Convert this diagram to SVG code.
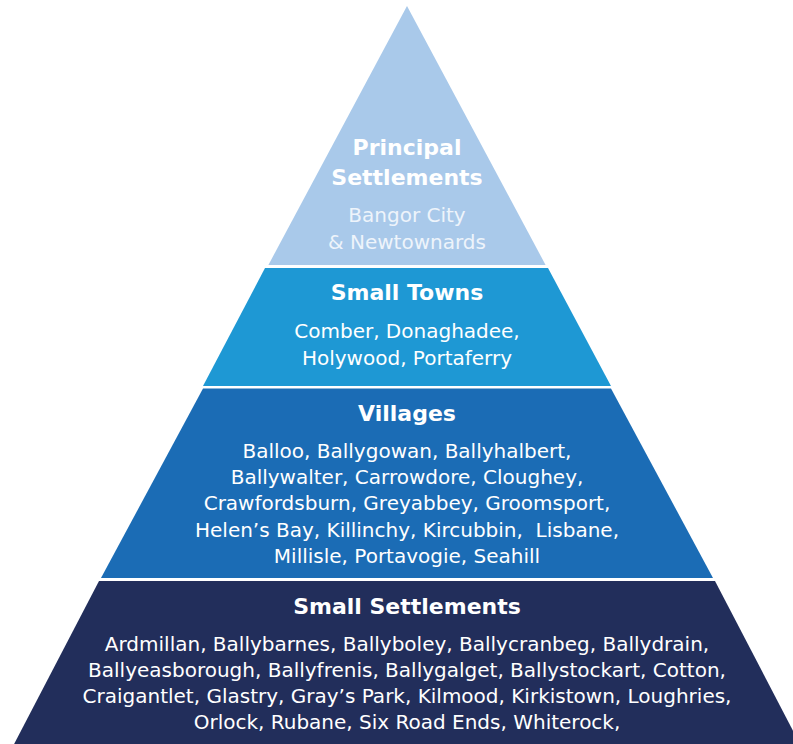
<svg xmlns="http://www.w3.org/2000/svg" width="793" height="744" viewBox="0 0 793 744">
<style>
.h{font-family:"DejaVu Sans",sans-serif;font-weight:bold;font-size:22px;fill:#ffffff;text-anchor:middle}
.t{font-family:"DejaVu Sans",sans-serif;font-size:20px;fill:#ffffff;text-anchor:middle}
.tl{font-family:"DejaVu Sans",sans-serif;font-size:20px;fill:#eef4fb;text-anchor:middle}
</style>
<rect width="793" height="744" fill="#ffffff"/>
<g id="principal">
<polygon points="407,6 545.6,265 268.4,265" fill="#A9C9EA"/>
<text class="h" x="407" y="155">Principal</text>
<text class="h" x="407" y="185">Settlements</text>
<text class="tl" x="407" y="222">Bangor City</text>
<text class="tl" x="407" y="249">&amp; Newtownards</text>
</g>
<g id="small-towns">
<polygon points="265,268 548,268 611,386 203,386" fill="#1E98D4"/>
<text class="h" x="407" y="300">Small Towns</text>
<text class="t" x="407" y="338">Comber, Donaghadee,</text>
<text class="t" x="407" y="365">Holywood, Portaferry</text>
</g>
<g id="villages">
<polygon points="203,388.5 611,388.5 713,578 101,578" fill="#1B6CB5"/>
<text class="h" x="407" y="421">Villages</text>
<text class="t" x="407" y="458">Balloo, Ballygowan, Ballyhalbert,</text>
<text class="t" x="407" y="484">Ballywalter, Carrowdore, Cloughey,</text>
<text class="t" x="407" y="510">Crawfordsburn, Greyabbey, Groomsport,</text>
<text class="t" x="407" y="537" xml:space="preserve">Helen’s Bay, Killinchy, Kircubbin,  Lisbane,</text>
<text class="t" x="407" y="563">Millisle, Portavogie, Seahill</text>
</g>
<g id="small-settlements">
<polygon points="99,581 715,581 803,750 11,750" fill="#222E5B"/>
<text class="h" x="407" y="614">Small Settlements</text>
<text class="t" x="407" y="651">Ardmillan, Ballybarnes, Ballyboley, Ballycranbeg, Ballydrain,</text>
<text class="t" x="407" y="677">Ballyeasborough, Ballyfrenis, Ballygalget, Ballystockart, Cotton,</text>
<text class="t" x="407" y="703">Craigantlet, Glastry, Gray’s Park, Kilmood, Kirkistown, Loughries,</text>
<text class="t" x="407" y="729">Orlock, Rubane, Six Road Ends, Whiterock,</text>
</g>
<g id="connectors"></g>
</svg>
